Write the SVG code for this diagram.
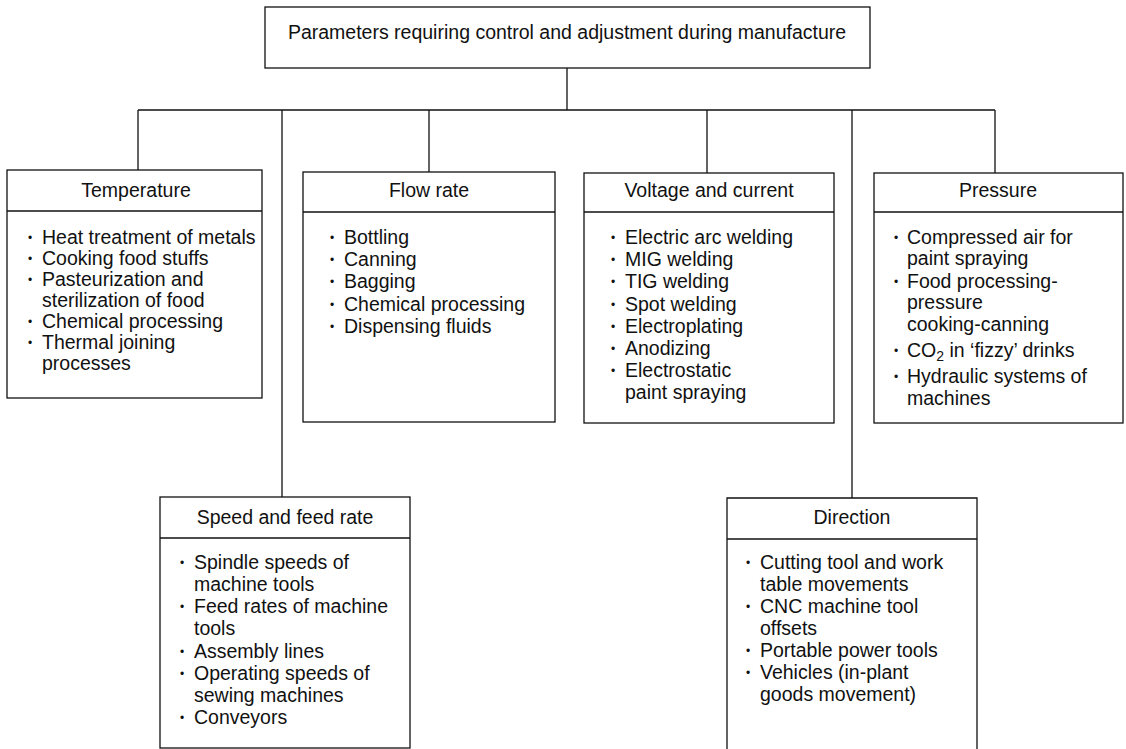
<svg xmlns="http://www.w3.org/2000/svg" width="1126" height="749" viewBox="0 0 1126 749">
<style>
.box{fill:#fff;stroke:#111;stroke-width:1.3}
.ln{fill:none;stroke:#111;stroke-width:1.3}
text{font-family:"Liberation Sans",Arial,sans-serif;font-size:19.5px;fill:#111}
.h{text-anchor:middle}
.b{font-size:12px}
</style>
<rect width="1126" height="749" fill="#fff"/>
<g id="connectors">
<path class="ln" d="M567 68V110M138 110H995M138 110V170M282 110V497M429 110V172M707 110V173M852 110V498M995 110V173"/>
</g>
<g id="root">
<rect class="box" x="265" y="7" width="605" height="61"/>
<text class="h" x="567" y="39">Parameters requiring control and adjustment during manufacture</text>
</g>
<g id="temperature">
<rect class="box" x="7" y="170" width="255" height="228"/>
<line class="ln" x1="7" y1="211" x2="262" y2="211"/>
<text class="h" x="136" y="197">Temperature</text>
<text class="b" x="28" y="242">•</text><text x="42" y="244">Heat treatment of metals</text>
<text class="b" x="28" y="263">•</text><text x="42" y="265">Cooking food stuffs</text>
<text class="b" x="28" y="284">•</text><text x="42" y="286">Pasteurization and</text>
<text x="42" y="307">sterilization of food</text>
<text class="b" x="28" y="326">•</text><text x="42" y="328">Chemical processing</text>
<text class="b" x="28" y="347">•</text><text x="42" y="349">Thermal joining</text>
<text x="42" y="370">processes</text>
</g>
<g id="speed">
<rect class="box" x="160" y="497" width="250" height="251"/>
<line class="ln" x1="160" y1="538" x2="410" y2="538"/>
<text class="h" x="285" y="524">Speed and feed rate</text>
<text class="b" x="180" y="567">•</text><text x="194" y="569">Spindle speeds of</text>
<text x="194" y="591">machine tools</text>
<text class="b" x="180" y="611">•</text><text x="194" y="613">Feed rates of machine</text>
<text x="194" y="635">tools</text>
<text class="b" x="180" y="656">•</text><text x="194" y="658">Assembly lines</text>
<text class="b" x="180" y="678">•</text><text x="194" y="680">Operating speeds of</text>
<text x="194" y="702">sewing machines</text>
<text class="b" x="180" y="722">•</text><text x="194" y="724">Conveyors</text>
</g>
<g id="flow">
<rect class="box" x="303" y="172" width="252" height="250"/>
<line class="ln" x1="303" y1="212" x2="555" y2="212"/>
<text class="h" x="429" y="197">Flow rate</text>
<text class="b" x="330" y="242">•</text><text x="344" y="244">Bottling</text>
<text class="b" x="330" y="264">•</text><text x="344" y="266">Canning</text>
<text class="b" x="330" y="286">•</text><text x="344" y="288">Bagging</text>
<text class="b" x="330" y="309">•</text><text x="344" y="311">Chemical processing</text>
<text class="b" x="330" y="331">•</text><text x="344" y="333">Dispensing fluids</text>
</g>
<g id="voltage">
<rect class="box" x="584" y="173" width="250" height="250"/>
<line class="ln" x1="584" y1="212" x2="834" y2="212"/>
<text class="h" x="709" y="197">Voltage and current</text>
<text class="b" x="611" y="242">•</text><text x="625" y="244">Electric arc welding</text>
<text class="b" x="611" y="264">•</text><text x="625" y="266">MIG welding</text>
<text class="b" x="611" y="286">•</text><text x="625" y="288">TIG welding</text>
<text class="b" x="611" y="309">•</text><text x="625" y="311">Spot welding</text>
<text class="b" x="611" y="331">•</text><text x="625" y="333">Electroplating</text>
<text class="b" x="611" y="353">•</text><text x="625" y="355">Anodizing</text>
<text class="b" x="611" y="375">•</text><text x="625" y="377">Electrostatic</text>
<text x="625" y="399">paint spraying</text>
</g>
<g id="pressure">
<rect class="box" x="874" y="173" width="249" height="250"/>
<line class="ln" x1="874" y1="212" x2="1123" y2="212"/>
<text class="h" x="998" y="197">Pressure</text>
<text class="b" x="894" y="242">•</text><text x="907" y="244">Compressed air for</text>
<text x="907" y="265">paint spraying</text>
<text class="b" x="894" y="286">•</text><text x="907" y="288">Food processing-</text>
<text x="907" y="309">pressure</text>
<text x="907" y="331">cooking-canning</text>
<text class="b" x="894" y="355">•</text><text x="907" y="357">CO<tspan font-size="14" dy="4">2</tspan><tspan dy="-4"> in ‘fizzy’ drinks</tspan></text>
<text class="b" x="894" y="381">•</text><text x="907" y="383">Hydraulic systems of</text>
<text x="907" y="405">machines</text>
</g>
<g id="direction">
<path class="box" d="M727 750V498H977V750"/>
<line class="ln" x1="727" y1="539" x2="977" y2="539"/>
<text class="h" x="852" y="524">Direction</text>
<text class="b" x="746" y="567">•</text><text x="760" y="569">Cutting tool and work</text>
<text x="760" y="591">table movements</text>
<text class="b" x="746" y="611">•</text><text x="760" y="613">CNC machine tool</text>
<text x="760" y="635">offsets</text>
<text class="b" x="746" y="655">•</text><text x="760" y="657">Portable power tools</text>
<text class="b" x="746" y="677">•</text><text x="760" y="679">Vehicles (in-plant</text>
<text x="760" y="701">goods movement)</text>
</g>
</svg>
